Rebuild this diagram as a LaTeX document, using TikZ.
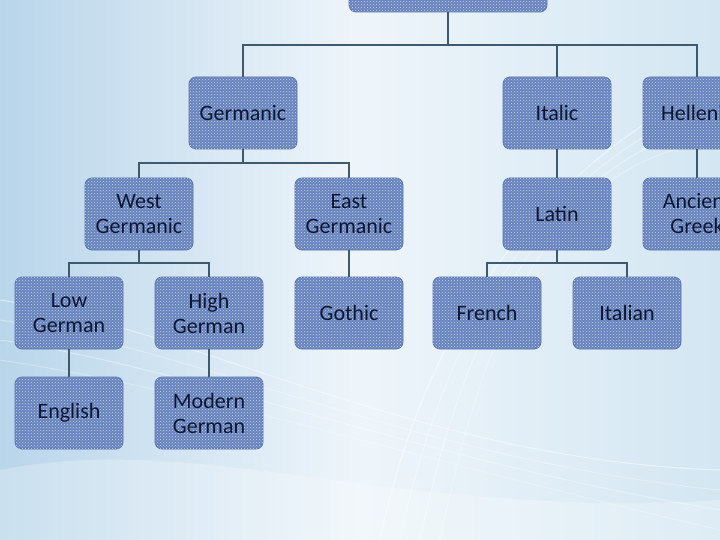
\documentclass[tikz,border=0pt]{standalone}
\usepackage{fontspec}
\setmainfont{Carlito}
\usetikzlibrary{patterns}
\definecolor{boxblue}{HTML}{6683BE}
\definecolor{boxedge}{HTML}{5573AD}
\definecolor{linec}{HTML}{3E5A6E}
\definecolor{txt}{HTML}{0E1631}
\definecolor{bgl}{HTML}{B9D5EA}
\definecolor{bgm}{HTML}{EEF5FA}
\definecolor{bgr}{HTML}{D3E6F2}
\tikzset{
  langbox/.style={draw=boxedge, line width=0.8pt, fill=boxblue, rounded corners=7pt,
    minimum width=108pt, minimum height=72pt, inner sep=2pt, align=center,
    text=txt, font=\fontsize{22}{25}\selectfont, text width=104pt,
    postaction={pattern=crosshatch dots, pattern color=white!65!boxblue}},
  conn/.style={draw=linec, line width=2pt}
}
\begin{document}
\begin{tikzpicture}[x=1pt,y=-1pt]
\useasboundingbox (0,0) rectangle (720,540);
\shade[left color=bgl, right color=bgr, middle color=bgm] (0,0) rectangle (720,540);
\begin{scope}
\clip (0,0) rectangle (720,540);
\foreach \a/\o in {0/0.5,20/0.35,40/0.4,60/0.3}{
  \draw[white, line width=1.2pt, opacity=\o] (380+\a,540) .. controls (430+\a,300) and (560,160) .. (720,80+\a);
  \draw[white, line width=1pt, opacity=\o] (0,300+\a) .. controls (200,330+\a) and (420,460) .. (720,470+\a);
}
\fill[white, opacity=0.25] (0,470) .. controls (200,430) and (400,520) .. (720,500) -- (720,540) -- (0,540) -- cycle;
\node[langbox, minimum width=198pt, text width=190pt] (root) at (448,-24) {};
\end{scope}
\node[langbox] (germanic) at (243,113) {Germanic};
\node[langbox] (italic) at (557,113) {Italic};
\node[langbox] (hellenic) at (697,113) {Hellenic};
\node[langbox] (westg) at (139,214) {West\\Germanic};
\node[langbox] (eastg) at (349,214) {East\\Germanic};
\node[langbox] (latin) at (557,214) {Latin};
\node[langbox] (greek) at (697,214) {Ancient\\Greek};
\node[langbox] (lowg) at (69,313) {Low\\German};
\node[langbox] (highg) at (209,313) {High\\German};
\node[langbox] (gothic) at (349,313) {Gothic};
\node[langbox] (french) at (487,313) {French};
\node[langbox] (italian) at (627,313) {Italian};
\node[langbox] (english) at (69,413) {English};
\node[langbox] (modg) at (209,413) {Modern\\German};
% connectors
\draw[conn] (root.south) -- ++(0,33) coordinate (hub);
\draw[conn] (hub) -| (germanic.north);
\draw[conn] (hub) -| (italic.north);
\draw[conn] (hub) -| (hellenic.north);
\draw[conn] (germanic.south) -- ++(0,14) coordinate (gh);
\draw[conn] (gh) -| (westg.north);
\draw[conn] (gh) -| (eastg.north);
\draw[conn] (italic.south) -- (latin.north);
\draw[conn] (hellenic.south) -- (greek.north);
\draw[conn] (westg.south) -- ++(0,13) coordinate (wh);
\draw[conn] (wh) -| (lowg.north);
\draw[conn] (wh) -| (highg.north);
\draw[conn] (eastg.south) -- (gothic.north);
\draw[conn] (latin.south) -- ++(0,13) coordinate (lh);
\draw[conn] (lh) -| (french.north);
\draw[conn] (lh) -| (italian.north);
\draw[conn] (lowg.south) -- (english.north);
\draw[conn] (highg.south) -- (modg.north);
\end{tikzpicture}
\end{document}
